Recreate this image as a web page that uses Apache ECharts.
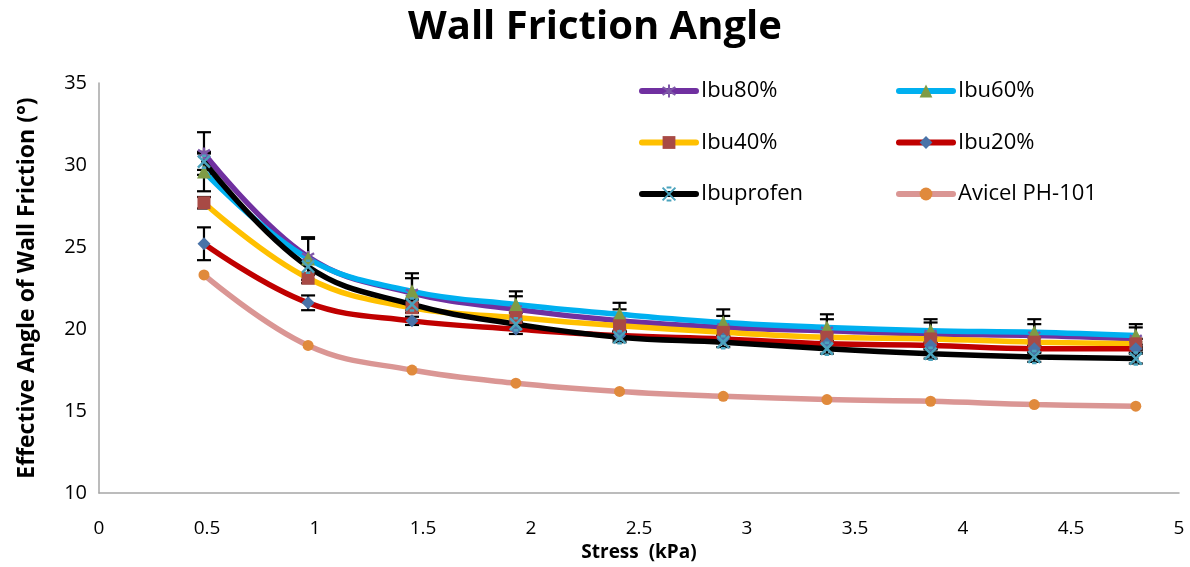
<!DOCTYPE html>
<html>
<head>
<meta charset="utf-8">
<script src="https://cdn.jsdelivr.net/npm/echarts@6/dist/echarts.min.js"></script>
<style>
  html, body { margin: 0; padding: 0; background: #fff; }
  #chart { width: 1190px; height: 567px; }
</style>
</head>
<body>
<div id="chart"></div>
<script>
// Applied normal stress (kPa)
const stress = [0.486, 0.968, 1.449, 1.93, 2.41, 2.89, 3.37, 3.85, 4.33, 4.80];

// Effective angle of wall friction (degrees)
const ibu80 = [30.7, 24.4, 22.2, 21.2, 20.5, 20.1, 19.9, 19.7, 19.6, 19.4];
const ibu60 = [29.6, 24.3, 22.3, 21.5, 20.9, 20.4, 20.1, 19.9, 19.8, 19.6];
const ibu40 = [27.7, 23.1, 21.3, 20.7, 20.2, 19.8, 19.5, 19.4, 19.2, 19.1];
const ibu20 = [25.2, 21.6, 20.5, 20.0, 19.6, 19.4, 19.1, 19.0, 18.8, 18.8];
const ibuprofen = [30.2, 23.8, 21.5, 20.3, 19.5, 19.2, 18.8, 18.5, 18.3, 18.2];
const avicel = [23.3, 19.0, 17.5, 16.7, 16.2, 15.9, 15.7, 15.6, 15.4, 15.3];

// Standard deviations (error bars)
const ibu80Err = [1.3, 1.1, 0.9, 0.8, 0.7, 0.7, 0.7, 0.7, 0.7, 0.7];
const ibu60Err = [1.2, 1.3, 1.1, 0.8, 0.7, 0.8, 0.8, 0.7, 0.8, 0.7];
const ibu40Err = [0.35, 0.3, 0.3, 0.3, 0.3, 0.3, 0.3, 0.3, 0.3, 0.3];
const ibu20Err = [1.0, 0.45, 0.25, 0.3, 0.25, 0.25, 0.25, 0.25, 0.25, 0.25];
const ibuprofenErr = [0.5, 0.4, 0.3, 0.3, 0.3, 0.3, 0.3, 0.3, 0.3, 0.3];

const yTicks = { min: 10, max: 35, interval: 5 };
const xTicks = { min: 0, max: 5, interval: 0.5 };

const FONT = '"Open Sans", "Liberation Sans", sans-serif';

const starPath = 'path://M0,-10L0,10M-9,-6L9,6M-9,6L9,-6';
const crossPath = 'path://M-8,-8L8,8M-8,8L8,-8M-3,-8L3,-8M-3,8L3,8';

function pairs(vals) {
  return stress.map((x, i) => [x, vals[i]]);
}

function errData(vals, errs) {
  return stress.map((x, i) => [x, vals[i] - errs[i], vals[i] + errs[i]]);
}

function errSeries(name, vals, errs) {
  return {
    type: 'custom',
    name: name + ' err',
    data: errData(vals, errs),
    z: 1,
    silent: true,
    renderItem: function (params, api) {
      const x = api.value(0);
      const lo = api.coord([x, api.value(1)]);
      const hi = api.coord([x, api.value(2)]);
      const half = 7;
      const style = { stroke: '#000', lineWidth: 2.2 };
      return {
        type: 'group',
        children: [
          { type: 'line', shape: { x1: lo[0], y1: lo[1], x2: hi[0], y2: hi[1] }, style: style },
          { type: 'line', shape: { x1: lo[0] - half, y1: lo[1], x2: lo[0] + half, y2: lo[1] }, style: style },
          { type: 'line', shape: { x1: hi[0] - half, y1: hi[1], x2: hi[0] + half, y2: hi[1] }, style: style }
        ]
      };
    }
  };
}

function lineSeries(name, vals, lineColor, symbol, symbolSize, markColor, markerStroke) {
  return {
    type: 'line',
    name: name,
    data: pairs(vals),
    smooth: 0.4,
    z: 3,
    lineStyle: { color: lineColor, width: 5.5, cap: 'round' },
    itemStyle: markerStroke
      ? { color: markColor, borderColor: markColor, borderWidth: 2.5 }
      : { color: markColor, borderWidth: 0 },
    symbol: symbol,
    symbolSize: symbolSize,
    showSymbol: true,
    emphasis: { disabled: true }
  };
}

const legendCommon = {
  orient: 'vertical',
  top: 75,
  itemGap: 29.5,
  itemWidth: 54,
  itemHeight: 16,
  lineStyle: { width: 6, cap: 'round' },
  textStyle: { fontFamily: FONT, fontSize: 22, color: '#000', padding: [0, 0, 0, 0] }
};

const option = {
  animation: false,
  backgroundColor: '#fff',
  title: {
    text: 'Wall Friction Angle',
    left: 'center',
    top: 3,
    textStyle: { fontFamily: FONT, fontSize: 40, fontWeight: 'bold', color: '#000' }
  },
  legend: [
    Object.assign({ data: ['Ibu80%', 'Ibu40%', 'Ibuprofen'], left: 634 }, legendCommon),
    Object.assign({ data: ['Ibu60%', 'Ibu20%', 'Avicel PH-101'], left: 891 }, legendCommon)
  ],
  grid: { left: 99, right: 11, top: 83, bottom: 67, containLabel: false },
  xAxis: {
    type: 'value',
    min: xTicks.min,
    max: xTicks.max,
    interval: xTicks.interval,
    name: 'Stress  (kPa)',
    nameLocation: 'middle',
    nameGap: 42,
    nameTextStyle: { fontFamily: FONT, fontSize: 19, fontWeight: 'bold', color: '#000' },
    axisLine: { show: true, lineStyle: { color: '#A6A6A6', width: 1.5 } },
    axisTick: { show: false },
    splitLine: { show: false },
    axisLabel: { fontFamily: FONT, fontSize: 19, color: '#000', margin: 26 }
  },
  yAxis: {
    type: 'value',
    min: yTicks.min,
    max: yTicks.max,
    interval: yTicks.interval,
    name: 'Effective Angle of Wall Friction (°)',
    nameLocation: 'middle',
    nameGap: 60,
    nameTextStyle: { fontFamily: FONT, fontSize: 23, fontWeight: 'bold', color: '#000' },
    axisLine: { show: true, lineStyle: { color: '#A6A6A6', width: 1.5 } },
    axisTick: { show: false },
    splitLine: { show: false },
    axisLabel: { fontFamily: FONT, fontSize: 20, color: '#000', margin: 12 }
  },
  series: [
    errSeries('Ibu80%', ibu80, ibu80Err),
    errSeries('Ibu60%', ibu60, ibu60Err),
    errSeries('Ibu40%', ibu40, ibu40Err),
    errSeries('Ibu20%', ibu20, ibu20Err),
    errSeries('Ibuprofen', ibuprofen, ibuprofenErr),
    lineSeries('Ibu80%', ibu80, '#7030A0', starPath, 12, '#7E57A8', true),
    lineSeries('Ibu60%', ibu60, '#00B0F0', 'triangle', 14, '#7F9B45', false),
    lineSeries('Ibu40%', ibu40, '#FFC000', 'rect', 13, '#A84A45', false),
    lineSeries('Ibu20%', ibu20, '#C00000', 'diamond', 13, '#4A73A8', false),
    lineSeries('Ibuprofen', ibuprofen, '#000000', crossPath, 12, '#4BA3BD', true),
    lineSeries('Avicel PH-101', avicel, '#DA9694', 'circle', 11, '#E08A3C', false)
  ]
};

const chart = echarts.init(document.getElementById('chart'), null, { renderer: 'canvas' });
chart.setOption(option);
</script>
</body>
</html>
